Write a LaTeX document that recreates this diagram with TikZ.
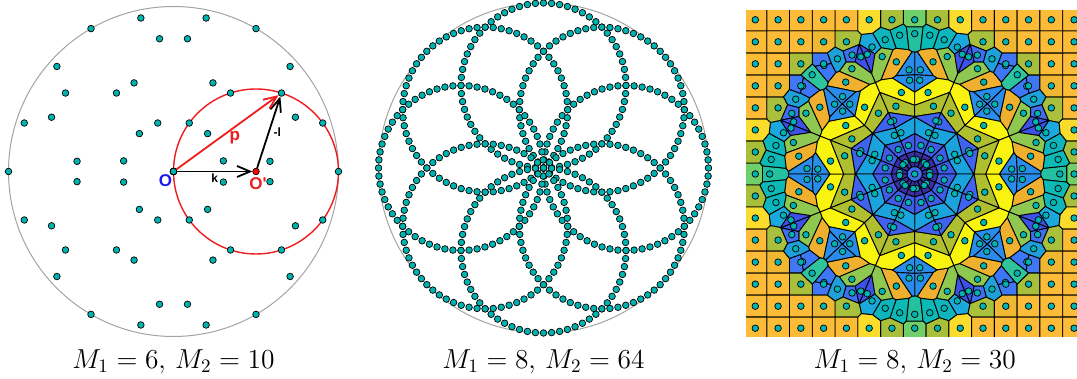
\documentclass[tikz,border=0pt]{standalone}
\usepackage[no-math]{fontspec}
\newfontfamily\labelfont{Liberation Sans}
\usetikzlibrary{arrows.meta,positioning}
\definecolor{ringgray}{HTML}{A3A3A3}
\definecolor{ptteal}{HTML}{00B2B0}
\definecolor{arcred}{HTML}{EE1C1C}
\definecolor{labelblue}{HTML}{1A1AF0}
\tikzset{
  ptdot/.style={circle,draw=black,fill=ptteal,line width=.35pt,inner sep=0pt,minimum size=3.3pt},
  lbl/.style={font=\labelfont\bfseries\fontsize{8.5}{8.5}\selectfont,inner sep=0pt},
  smalllbl/.style={font=\labelfont\bfseries\fontsize{6}{6}\selectfont,inner sep=0pt},
  vec/.style={-{Straight Barb[length=6.5pt,width=5.5pt]},line width=.9pt},
  caption/.style={font=\fontsize{14}{17}\selectfont,scale=.953},
  % cell colours, by place on a ring (r), or by grid place (g)
  rc/.style={fill={rgb,255:red,63;green,111;blue,236}},
  r14/.style={fill={rgb,255:red,58;green,45;blue,165}},
  r13/.style={fill={rgb,255:red,62;green,92;blue,230}},
  r12/.style={fill={rgb,255:red,27;green,163;blue,221}},
  r11/.style={fill={rgb,255:red,63;green,99;blue,239}},
  r10/.style={fill={rgb,255:red,176;green,191;blue,48}},
  r9/.style={fill={rgb,255:red,248;green,244;blue,15}},
  r8/.style={fill={rgb,255:red,42;green,140;blue,234}},
  r7/.style={fill={rgb,255:red,42;green,140;blue,234}},
  r6/.style={fill={rgb,255:red,239;green,176;blue,48}},
  r5/.style={fill={rgb,255:red,143;green,200;blue,80}},
  r4e/.style={fill={rgb,255:red,61;green,80;blue,232}},
  r4o/.style={fill={rgb,255:red,61;green,80;blue,232}},
  r3e/.style={fill={rgb,255:red,27;green,168;blue,220}},
  r3o/.style={fill={rgb,255:red,63;green,111;blue,240}},
  r2e/.style={fill={rgb,255:red,14;green,181;blue,189}},
  r2o/.style={fill={rgb,255:red,31;green,160;blue,216}},
  r1e/.style={fill={rgb,255:red,12;green,185;blue,181}},
  r1o/.style={fill={rgb,255:red,60;green,120;blue,245}},
  r0e/.style={fill={rgb,255:red,37;green,192;blue,160}},
  r0o/.style={fill={rgb,255:red,46;green,196;blue,156}},
  g70/.style={fill={rgb,255:red,111;green,208;blue,106}},
  g71/.style={fill={rgb,255:red,168;green,192;blue,57}},
  g72/.style={fill={rgb,255:red,249;green,220;blue,44}},
  g63/.style={fill={rgb,255:red,169;green,192;blue,60}},
  g64/.style={fill={rgb,255:red,239;green,183;blue,50}},
  g54/.style={fill={rgb,255:red,63;green,119;blue,245}},
  g55/.style={fill={rgb,255:red,169;green,191;blue,59}}
}
% cut \poly by the line half way from site (#1,#2) to site (#3,#4)
\newcommand\trimcell[4]{%
  \pgfmathsetmacro\dx{#3-(#1)}%
  \pgfmathsetmacro\dy{#4-(#2)}%
  \pgfmathsetmacro\cc{\dx*(#3+(#1))/2+\dy*(#4+(#2))/2}%
  \pgfmathsetmacro\qf{\dx*\lastx+\dy*\lasty-\cc}%
  \xdef\qf{\qf}\xdef\qx{\lastx}\xdef\qy{\lasty}%
  \gdef\kept{}%
  \foreach \px/\py in \poly {%
    \pgfmathsetmacro\pf{\dx*\px+\dy*\py-\cc}%
    \ifdim\pf pt>0pt \def\pin{0}\else \def\pin{1}\fi
    \ifdim\qf pt>0pt \def\qin{0}\else \def\qin{1}\fi
    \if\pin\qin\else
      \pgfmathsetmacro\tt{\qf/(\qf-(\pf))}%
      \pgfmathsetmacro\nx{\qx+\tt*(\px-(\qx))}%
      \pgfmathsetmacro\ny{\qy+\tt*(\py-(\qy))}%
      \xdef\kept{\kept\ifx\kept\empty\else,\fi\nx/\ny}%
      \xdef\lastx{\nx}\xdef\lasty{\ny}%
    \fi
    \if\pin1
      \xdef\kept{\kept\ifx\kept\empty\else,\fi\px/\py}%
      \xdef\lastx{\px}\xdef\lasty{\py}%
    \fi
    \xdef\qf{\pf}\xdef\qx{\px}\xdef\qy{\py}%
  }%
  \global\let\poly\kept
}
\begin{document}
\begin{tikzpicture}[x=.5pt,y=.5pt]
  \useasboundingbox (0,0) rectangle (1077,379);
  % left disc
  \begin{scope}[shift={(173.5,207.5)}]
    \node[circle,draw=ringgray,line width=.5pt,inner sep=0pt,minimum size=165pt] (rimA) at (0,0) {};
    \node[circle,draw=arcred,line width=.7pt,inner sep=0pt,minimum size=82.5pt] (arcA) at (82.5,0) {};
    \foreach \i in {0,...,5}
      \foreach \j in {0,...,9}
        \node[ptdot] (a\i-\j) at ({82.5*(cos(60*\i)+cos(60*\i+36*\j))},{82.5*(sin(60*\i)+sin(60*\i+36*\j))}) {};
    \node[ptdot,fill=red] (Oq) at (82.5,0) {};
    \draw[vec] (a0-5) -- (Oq) node[midway,below=.8pt,smalllbl]{k};
    \draw[vec] (Oq) -- (a0-2) node[pos=.5,right=2pt,smalllbl]{-l};
    \draw[vec,arcred] (a0-5) -- (a0-2) node[pos=.58,below right=2pt and -3.5pt,lbl]{p};
    \node[lbl,text=labelblue,below left=1.5pt and .5pt] (labO) at (a0-5) {O};
    \node[lbl,text=arcred,below=3pt,xshift=1pt] (labOq) at (Oq) {O'};
  \end{scope}
  % middle disc
  \begin{scope}[shift={(543.5,211)}]
    \node[circle,draw=ringgray,line width=.5pt,inner sep=0pt,minimum size=165pt] (rimB) at (0,0) {};
    \foreach \i in {0,...,7}
      \foreach \j in {0,...,63}
        \node[ptdot] (b\i-\j) at ({82.5*(cos(45*\i)+cos(45*\i+5.625*\j))},{82.5*(sin(45*\i)+sin(45*\i+5.625*\j))}) {};
  \end{scope}
  % right panel, all sites and the ones that stand for their mirror images
  \gdef\allsites{0/0/rc}
  \gdef\repsites{0/0/rc}
  \foreach \i in {0,...,7}
    \foreach \j in {0,...,29} {
      \ifnum\j=15 \else
        \pgfmathsetmacro\sx{3.185*(cos(45*\i)+cos(45*\i+12*\j))}
        \pgfmathsetmacro\sy{3.185*(sin(45*\i)+sin(45*\i+12*\j))}
        \pgfmathtruncatemacro\J{min(\j,30-\j)}
        \ifnum\J<5
          \ifodd\i \edef\tag{r\J o}\else \edef\tag{r\J e}\fi
        \else \edef\tag{r\J}\fi
        \xdef\allsites{\allsites,\sx/\sy/\tag}
        \ifnum\i<2 \ifnum\j<15 \xdef\repsites{\repsites,\sx/\sy/\tag}\fi\fi
      \fi
    }
  \foreach \gx in {-7,...,7}
    \foreach \gy in {-7,...,7} {
      \pgfmathtruncatemacro\far{\gx*\gx+\gy*\gy>40.6 ? 1 : 0}
      \ifnum\far=1
        \pgfmathtruncatemacro\key{10*max(abs(\gx),abs(\gy))+min(abs(\gx),abs(\gy))}
        \xdef\allsites{\allsites,\gx/\gy/g\key}
        \ifnum\gy<0 \else \ifnum\gx<\gy \else \xdef\repsites{\repsites,\gx/\gy/g\key}\fi\fi
      \fi
    }
  % right panel, the cells
  \begin{scope}
    \clip (746,42.3) rectangle (1077,368);
    \begin{scope}[shift={(914.7,205)},xscale=22.77,yscale=22.03]
      \foreach \sx/\sy/\tag in \repsites {
        \gdef\poly{-9/-9,9/-9,9/9,-9/9}
        \gdef\lastx{-9}\gdef\lasty{9}
        \pgfmathsetmacro\radi{veclen(\sx,\sy)}
        \pgfmathsetmacro\reach{\radi>5.95 ? 6.25 : min(12,(.8+.9*\radi)*(.8+.9*\radi))}
        \foreach \tx/\ty/\ttag in \allsites {
          \pgfmathsetmacro\dd{(\tx-\sx)*(\tx-\sx)+(\ty-\sy)*(\ty-\sy)}
          \ifdim\dd pt>.001pt \ifdim\dd pt<\reach pt
            \trimcell{\sx}{\sy}{\tx}{\ty}
          \fi\fi
        }
        \gdef\cellpath{}
        \foreach \px/\py in \poly { \xdef\cellpath{\cellpath -- (\px,\py)} }
        \foreach \mir in {{1,0,0,1},{-1,0,0,1},{1,0,0,-1},{-1,0,0,-1},{0,1,1,0},{0,-1,1,0},{0,1,-1,0},{0,-1,-1,0}}
          \draw[cm/.expanded={\mir,(0,0)},line width=.45pt,line join=round,fill={rgb,255:red,253;green,188;blue,56},\tag/.try] (\lastx,\lasty) \cellpath -- cycle;
      }
      \foreach \sx/\sy/\tag [count=\n] in \allsites
        \node[ptdot] (c\n) at (\sx,\sy) {};
    \end{scope}
  \end{scope}
  % captions
  \node[caption] (capA) at (173.5,17) {$M_1=6,\,M_2=10$};
  \node[caption] (capB) at (543.5,17) {$M_1=8,\,M_2=64$};
  \node[caption] (capC) at (914.7,17) {$M_1=8,\,M_2=30$};
\end{tikzpicture}
\end{document}
